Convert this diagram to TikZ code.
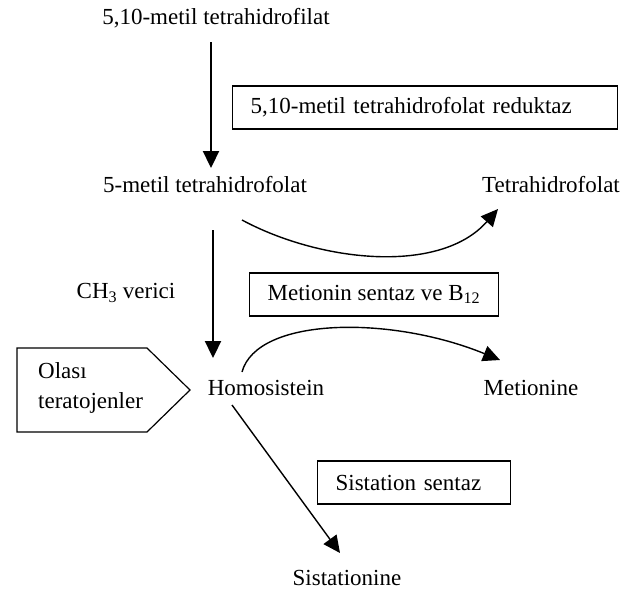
\documentclass[tikz,border=0pt]{standalone}
\usepackage{fontspec}
\setmainfont{Liberation Serif}
\usetikzlibrary{arrows.meta, positioning}

\begin{document}
\begin{tikzpicture}[
	x=1pt, y=-1pt,
	>={Triangle[length=17pt, width=16pt]},
	font=\fontsize{23}{30}\selectfont,
	inner sep=1pt,
	line join=miter
]

\tikzstyle{enzyme} = [draw, line width=1.2pt, minimum height=43pt, inner xsep=18pt, anchor=west, align=left];
\tikzstyle{main arrow} = [->, line width=2.3pt];
\tikzstyle{side arrow} = [->, line width=1.4pt];

\useasboundingbox (0,0) rectangle (640,589);

 \node (mthf10) at (216,18)  {5,10-metil tetrahidrofilat};
 \node (mthf5)  at (205,185) {5-metil tetrahidrofolat};
 \node (thf)    at (551,185) {Tetrahidrofolat};
 \node (ch3)    at (126,293) {CH\textsubscript{3} verici};
 \node (hcy)    at (266,388) {Homosistein};
 \node (met)    at (531,388) {Metionine};
 \node (cysta)  at (347,578) {Sistationine};
 \node (olasi) [anchor=west, align=left] at (37,388) {Olası\\teratojenler};

 \node [enzyme, text width=349pt] (red) at (232,107.5) {5,10-metil tetrahidrofolat reduktaz};
 \node [enzyme]                   (ms)  at (249,294.5) {Metionin sentaz ve B\textsubscript{12}};
 \node [enzyme, text width=157pt] (cbs) at (317,482.5) {Sistation sentaz};

% pentagon round the teratogens
 \draw [line width=1.2pt] ([shift={(-20,-40)}]olasi.west) -- ++(130,0) -- (190,390)
       -- ([shift={(110,44)}]olasi.west) -- ++(-130,0) -- cycle;

 \draw [main arrow] ([shift={(-5,24)}]mthf10.center) -- ([shift={(6,-17)}]mthf5.center);
 \draw [main arrow] ([shift={(8,45)}]mthf5.center)   -- ([shift={(-53,-30)}]hcy.center);

 \draw [side arrow] ([shift={(37,35)}]mthf5.center) .. controls +(78,42) and +(-58,66) .. ([shift={(-53,24)}]thf.center);
 \draw [side arrow] ([shift={(-24,-16)}]hcy.center) .. controls +(15,-55) and +(-110,-45) .. ([shift={(-31,-28)}]met.center);
 \draw [side arrow] ([shift={(-34,17)}]hcy.center)  -- ([shift={(-7,-25)}]cysta.center);

\end{tikzpicture}
\end{document}
